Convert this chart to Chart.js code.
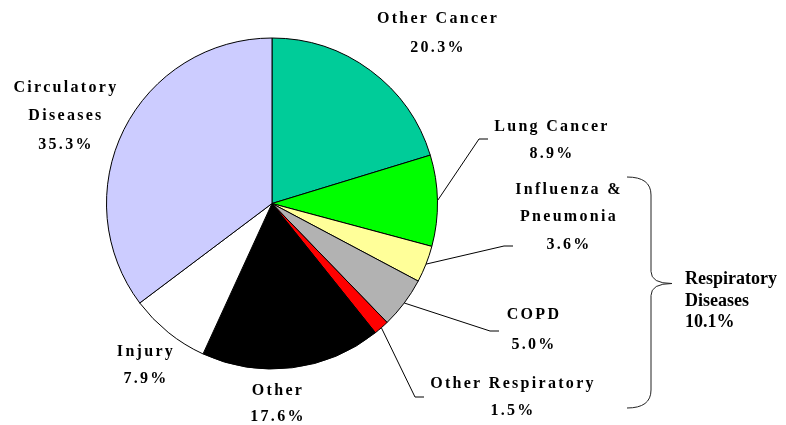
<!DOCTYPE html>
<html>
<head>
<meta charset="utf-8">
<script src="https://cdn.jsdelivr.net/npm/chart.js@4/dist/chart.umd.min.js"></script>
<style>
  body { margin: 0; background: #fff; }
  canvas { display: block; }
</style>
</head>
<body>
<canvas id="pie" width="786" height="425"></canvas>
<script>
// causes of death, percent of all deaths
const categories = ['Other Cancer', 'Lung Cancer', 'Influenza & Pneumonia', 'COPD',
  'Other Respiratory', 'Other', 'Injury', 'Circulatory Diseases'];
const shares = [20.3, 8.9, 3.6, 5.0, 1.5, 17.6, 7.9, 35.3];
const colors = ['#00cc99', '#00ff00', '#ffff99', '#b2b2b2', '#ff0000', '#000000', '#ffffff', '#ccccff'];
// slices grouped under the brace
const respiratory = ['Influenza & Pneumonia', 'COPD', 'Other Respiratory'];

// label lines (text split per line), last line is the percentage
const labelLines = [
  ['Other Cancer'], ['Lung Cancer'], ['Influenza &', 'Pneumonia'], ['COPD'],
  ['Other Respiratory'], ['Other'], ['Injury'], ['Circulatory', 'Diseases']
];
// label offsets from pie centre (first line), and line height
const labelPos = [
  [165, -185, 29], [279, -77, 27], [296, -14, 27.5], [261, 111, 30],
  [240, 180, 27], [5, 187, 26], [-127, 148, 27], [-207, -116, 28.5]
];
// leader line elbows (offset from centre), null = no leader
const elbows = [null, [207, -64.5], [232, 42.5], [218, 127.5], [143, 193.5], null, null, null];

const labelPlugin = {
  id: 'labels',
  afterDatasetsDraw(chart) {
    const ctx = chart.ctx;
    const arcs = chart.getDatasetMeta(0).data;
    const cx = arcs[0].x, cy = arcs[0].y;
    ctx.save();
    ctx.strokeStyle = '#000';
    ctx.lineWidth = 1;
    arcs.forEach((arc, i) => {
      const e = elbows[i];
      if (!e) return;
      const mid = (arc.startAngle + arc.endAngle) / 2;
      const r = arc.outerRadius;
      ctx.beginPath();
      ctx.moveTo(cx + Math.cos(mid) * r, cy + Math.sin(mid) * r);
      ctx.lineTo(cx + e[0], cy + e[1]);
      ctx.lineTo(cx + e[0] + 9, cy + e[1]);
      ctx.stroke();
    });

    ctx.fillStyle = '#000';
    ctx.textAlign = 'center';
    ctx.textBaseline = 'middle';
    ctx.font = 'bold 16px "Liberation Serif", "Times New Roman", serif';
    ctx.letterSpacing = '2.3px';
    categories.forEach((c, i) => {
      const [dx, dy, lh] = labelPos[i];
      const lines = labelLines[i].concat([shares[i].toFixed(1) + '%']);
      lines.forEach((t, k) => ctx.fillText(t, cx + dx + 1, cy + dy + k * lh));
    });

    // brace around the respiratory slices
    const bx = cx + 379, top = cy - 26.5, bot = cy + 204.5, tip = cy + 80;
    ctx.strokeStyle = '#222';
    ctx.beginPath();
    ctx.moveTo(bx - 24, top);
    ctx.quadraticCurveTo(bx, top, bx, top + 18);
    ctx.lineTo(bx, tip - 12);
    ctx.quadraticCurveTo(bx, tip, bx + 21, tip);
    ctx.quadraticCurveTo(bx, tip, bx, tip + 12);
    ctx.lineTo(bx, bot - 18);
    ctx.quadraticCurveTo(bx, bot, bx - 24, bot);
    ctx.stroke();

    const total = shares.filter((v, i) => respiratory.includes(categories[i]))
      .reduce((a, b) => a + b, 0);
    ctx.letterSpacing = '0px';
    ctx.textAlign = 'left';
    ctx.font = 'bold 18px "Liberation Serif", "Times New Roman", serif';
    ['Respiratory', 'Diseases', total.toFixed(1) + '%'].forEach((t, k) =>
      ctx.fillText(t, bx + 34, cy + 76 + k * 21.5));
    ctx.restore();
  }
};

new Chart(document.getElementById('pie').getContext('2d'), {
  type: 'pie',
  data: {
    labels: categories,
    datasets: [{
      data: shares,
      backgroundColor: colors,
      borderColor: '#000',
      borderWidth: 1
    }]
  },
  options: {
    responsive: false,
    animation: false,
    layout: { padding: { left: 106, right: 348, top: 37.5, bottom: 55.5 } },
    plugins: { legend: { display: false }, tooltip: { enabled: false } }
  },
  plugins: [labelPlugin]
});
</script>
</body>
</html>
